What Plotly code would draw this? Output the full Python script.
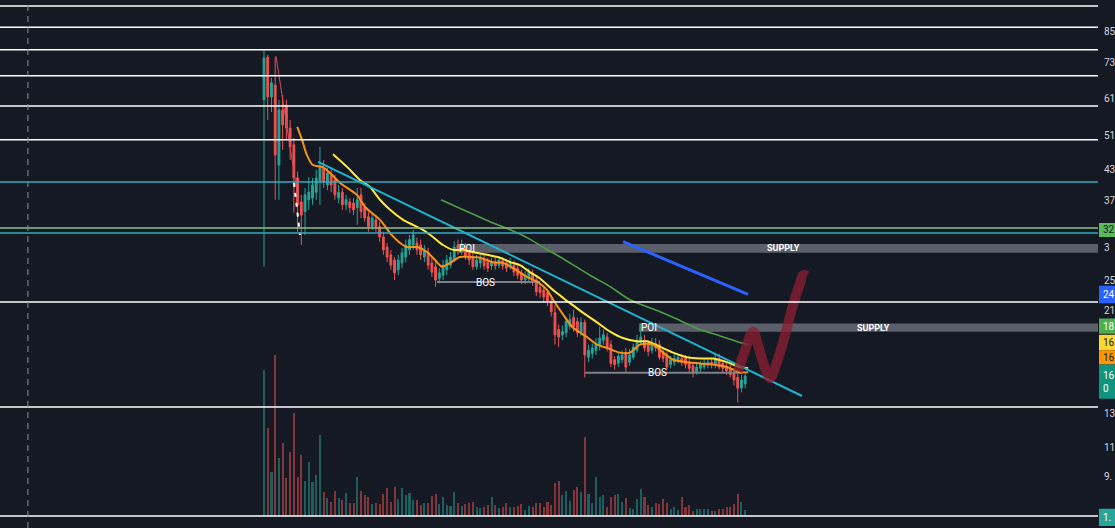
import math
import plotly.graph_objects as go

BG = "#151924"
UP = "#26a69a"
DOWN = "#ef5350"
UP_VOL = "rgba(38,166,154,0.5)"
DOWN_VOL = "rgba(239,83,80,0.5)"
FONT = "Roboto, Arial, sans-serif"

# ---------------- candles (bar index = position in lists) ----------------
opens = [60.6, 74.8, 61.5, 65.2, 44.0, 57.7, 59.1, 52.8, 48.6, 41.3,
         36.7, 35.0, 37.1, 37.4, 38.5, 40.5, 43.4, 39.9, 41.9, 40.9,
         37.4, 38.5, 36.2, 36.7, 36.5, 35.7, 38.0, 35.7, 34.1, 32.5,
         33.6, 32.5, 30.9, 29.4, 28.3, 27.6, 26.3, 27.2, 28.0, 29.0,
         29.7, 30.0, 29.7, 28.0, 28.7, 27.2, 26.7, 25.2, 25.6, 26.3,
         26.9, 27.6, 29.7, 29.0, 29.3, 28.7, 28.0, 26.7, 27.2, 27.6,
         27.3, 26.8, 27.3, 26.9, 27.5, 27.2, 26.7, 26.9, 26.5, 25.9,
         25.0, 25.2, 25.9, 25.0, 24.1, 23.8, 23.5, 22.5, 21.3, 19.6,
         19.1, 19.3, 19.9, 20.8, 20.4, 19.3, 20.3, 17.1, 17.4, 17.7,
         18.2, 18.6, 18.9, 18.2, 16.9, 16.6, 16.9, 17.5, 16.7, 17.1,
         17.7, 18.4, 18.6, 18.2, 17.7, 18.3, 18.2, 17.6, 17.3, 16.5,
         16.7, 16.9, 17.0, 17.0, 16.6, 16.4, 15.9, 16.2, 16.3, 16.5,
         16.7, 16.5, 17.0, 16.6, 16.4, 16.2, 15.9, 15.5, 14.7, 15.0]
highs = [77.5, 75.6, 67.5, 74.8, 60.6, 62.1, 60.6, 54.9, 50.3, 42.6,
         38.0, 39.3, 41.5, 41.3, 43.0, 48.1, 45.1, 43.4, 43.0, 41.9,
         39.9, 39.3, 38.0, 37.4, 37.4, 39.3, 39.3, 36.5, 35.0, 34.8,
         34.4, 33.3, 31.7, 30.0, 29.0, 28.0, 28.3, 29.3, 30.5, 31.2,
         32.0, 30.8, 30.5, 29.7, 29.3, 27.9, 27.3, 26.5, 27.6, 28.3,
         28.7, 30.2, 30.5, 30.5, 30.0, 29.3, 28.6, 28.3, 28.3, 28.3,
         27.9, 27.9, 27.9, 28.1, 28.0, 27.7, 27.9, 27.5, 27.0, 26.3,
         26.1, 26.5, 26.3, 25.4, 24.6, 24.3, 23.8, 22.9, 22.1, 20.1,
         20.0, 20.8, 21.2, 21.6, 20.8, 20.8, 20.6, 18.2, 18.3, 18.8,
         19.9, 19.6, 19.3, 18.6, 17.2, 17.5, 17.7, 17.9, 17.8, 18.3,
         19.1, 20.2, 19.1, 18.6, 18.8, 18.8, 18.6, 17.9, 17.6, 17.2,
         17.4, 17.4, 17.4, 17.3, 17.0, 16.7, 16.6, 16.8, 17.0, 17.0,
         17.0, 17.4, 17.4, 16.9, 16.7, 16.5, 16.2, 15.9, 15.7, 15.8]
lows = [26.7, 54.9, 57.1, 37.1, 37.1, 47.4, 49.8, 45.1, 34.8, 31.7,
        29.7, 31.2, 35.3, 36.2, 37.1, 36.2, 39.3, 38.9, 38.5, 37.1,
        36.5, 35.3, 35.3, 34.8, 34.4, 32.8, 33.9, 33.3, 31.7, 32.0,
        31.7, 30.2, 28.3, 27.3, 26.3, 25.0, 25.6, 26.5, 27.3, 28.3,
        29.0, 28.3, 27.6, 27.3, 26.3, 25.4, 24.2, 24.6, 25.0, 25.6,
        26.5, 27.3, 28.3, 28.3, 27.6, 26.9, 26.3, 26.3, 26.5, 26.3,
        26.0, 26.3, 26.3, 26.5, 26.3, 26.0, 26.3, 25.5, 25.1, 24.5,
        24.5, 24.8, 24.3, 23.1, 22.9, 22.5, 22.0, 20.9, 18.2, 18.0,
        18.6, 18.9, 19.6, 19.4, 18.9, 19.0, 15.5, 16.7, 17.0, 17.3,
        17.7, 18.2, 17.6, 16.3, 16.1, 16.3, 16.6, 15.9, 16.4, 16.9,
        17.5, 18.2, 17.6, 17.2, 17.4, 17.6, 16.9, 16.7, 16.1, 16.2,
        16.4, 16.6, 16.4, 16.2, 15.9, 15.5, 15.7, 15.9, 16.1, 16.2,
        16.2, 16.2, 16.1, 15.9, 15.7, 15.5, 14.9, 13.7, 14.4, 14.7]
closes = [74.5, 61.5, 65.9, 46.2, 57.7, 53.6, 52.8, 48.1, 41.3, 36.2,
          34.4, 38.0, 38.5, 39.9, 41.3, 43.6, 40.5, 42.3, 39.9, 38.0,
          38.5, 36.2, 37.1, 35.7, 35.3, 37.1, 35.0, 33.9, 32.5, 33.9,
          32.5, 30.9, 29.0, 28.0, 26.9, 25.9, 27.6, 28.6, 29.7, 30.5,
          31.2, 29.0, 28.3, 29.0, 26.9, 26.0, 25.0, 25.9, 26.9, 27.6,
          28.0, 29.4, 29.0, 29.7, 28.0, 27.6, 26.7, 27.6, 27.9, 26.8,
          26.5, 27.3, 26.8, 27.6, 26.8, 26.5, 27.3, 26.0, 25.6, 25.0,
          25.6, 26.0, 24.8, 23.6, 23.5, 23.0, 22.5, 21.4, 19.1, 18.9,
          19.4, 20.4, 20.6, 19.9, 19.3, 20.3, 17.3, 17.7, 17.9, 18.3,
          18.8, 19.1, 18.0, 16.6, 16.5, 17.2, 17.3, 16.3, 17.3, 18.0,
          18.6, 18.9, 17.9, 17.6, 18.3, 17.9, 17.1, 17.0, 16.3, 16.9,
          17.0, 17.1, 16.7, 16.5, 16.2, 15.8, 16.3, 16.5, 16.6, 16.7,
          16.5, 17.0, 16.3, 16.2, 16.0, 15.7, 15.3, 14.7, 15.3, 15.6]
volumes = [146, 88, 44, 161, 58, 73, 38, 64, 103, 39,
           61, 35, 54, 34, 41, 81, 24, 18, 14, 25,
           18, 16, 23, 13, 13, 39, 25, 21, 19, 12,
           13, 12, 22, 28, 14, 29, 17, 28, 21, 23,
           16, 16, 11, 13, 13, 20, 22, 12, 19, 11,
           10, 24, 13, 10, 12, 13, 14, 9, 8, 9,
           11, 19, 11, 8, 9, 13, 9, 9, 10, 12,
           6, 10, 9, 13, 13, 9, 14, 11, 33, 35,
           21, 25, 15, 26, 29, 24, 79, 22, 13, 39,
           19, 21, 9, 19, 21, 22, 14, 18, 8, 7,
           17, 27, 19, 11, 9, 13, 12, 17, 13, 7,
           9, 6, 19, 9, 11, 5, 7, 7, 7, 7,
           5, 5, 7, 7, 9, 9, 12, 22, 14, 6]
bars = list(range(len(opens)))

# ---------------- indicator lines (bar index, price) ----------------
ema_orange_x = [8.9, 10.2, 11.5, 13.1, 15.6, 17.7, 20.4, 24.9, 27.1, 31.1, 33.8, 36.5, 38.3, 41.0, 43.7,
                46.4, 47.7, 49.9, 52.5, 55.2, 57.9, 61.4, 64.1, 66.8, 70.5, 73.2, 75.9, 77.5, 80.2, 82.8,
                86.6, 89.3, 92.0, 95.4, 98.1, 100.8, 104.3, 107.0, 109.7, 113.4, 116.9, 120.4, 124.1, 127.6, 129.8]
ema_orange_y = [53.1, 49.8, 46.2, 44.0, 43.6, 42.3, 40.3, 38.0, 35.8, 33.6, 31.5, 30.0, 29.4, 29.4, 28.7,
                27.3, 26.7, 27.2, 28.0, 28.0, 27.9, 27.3, 27.2, 26.5, 25.4, 24.8, 23.8, 22.7, 21.1, 19.8,
                18.9, 18.2, 17.9, 17.5, 17.5, 18.2, 18.2, 17.5, 16.9, 16.7, 16.6, 16.5, 16.3, 15.9, 15.9]
ema_yellow_x = [18.5, 22.25, 25.7, 28.4, 31.1, 33.8, 37.3, 39.9, 42.6, 45.3, 48.0, 50.7, 53.4, 56.0, 59.8,
                63.3, 66.0, 68.6, 71.3, 74.0, 77.5, 80.2, 82.8, 85.5, 89.3, 92.8, 96.2, 100.0, 102.7, 106.2,
                109.7, 113.4, 116.9, 120.4, 124.1, 127.6, 129.8]
ema_yellow_y = [46.4, 43.6, 40.9, 39.5, 37.1, 35.3, 33.6, 32.8, 32.0, 30.9, 29.7, 29.0, 29.0, 28.7, 28.3,
                27.9, 27.3, 26.9, 26.0, 25.2, 23.8, 22.9, 22.1, 21.3, 20.3, 19.4, 18.8, 18.5, 18.5, 18.0,
                17.5, 17.1, 17.0, 17.0, 16.7, 16.3, 16.2]
ma_green_x = [47.45, 51.7, 55.2, 60.6, 66.0, 70.5, 74.8, 79.4, 87.4, 92.8, 98.1, 106.2, 111.5, 116.9, 122.3, 127.6, 129.8]
ma_green_y = [37.1, 35.8, 34.8, 33.3, 32.0, 30.8, 29.4, 28.0, 25.6, 24.2, 22.7, 21.4, 20.5, 19.6, 19.0, 18.4, 18.2]

# ---------------- drawings ----------------
trend_cyan_x = [14.48, 144.24]
trend_cyan_y = [44.7, 14.14]
trend_blue_x = [96.25, 129.76]
trend_blue_y = [30.2, 23.3]
red_diag_x = [3.2, 9.4]
red_diag_y = [75.2, 36.2]
white_dash_x = [8.04, 9.65]
white_dash_y = [40.3, 31.2]
squiggle_x = [127.1, 128.95, 131.1, 132.4, 134.0, 135.7, 137.3, 139.7, 141.8, 143.7, 144.5, 145.6]
squiggle_y = [15.94, 17.7, 19.4, 18.2, 16.5, 15.45, 16.5, 19.1, 22.1, 24.6, 25.6, 25.5]

white_levels = [96.1, 86.6, 77.5, 68.2, 58.8, 49.8, 22.45, 13.4, 7.84]
cyan_levels = [40.5, 31.5]
green_levels = [32.3]

supply_zones = [  # (start bar, low, high, POI bar, label bar)
    (51.7, 28.6, 29.85, 54.4, 139.4),
    (100.5, 19.4, 20.2, 103.2, 163.5),
]
bos_lines = [  # (start bar, end bar, price, label bar)
    (46.4, 74.0, 24.76, 59.5),
    (86.1, 128.4, 15.86, 105.6),
]
dashed_vline_bar = -63.3

tick_vals = [85, 73, 61, 51, 43, 37, 29.3, 25, 21.5, 13, 11, 9.5]
tick_text = ["85", "73", "61", "51", "43", "37", "3", "25", "21", "13", "11", "9."]

# right-axis value tags: (low, high, text, background, text colour)
tags = [
    (30.9, 33.1, "32", "#5cb85c", "#131722"),
    (22.3, 24.3, "24", "#2962ff", "#ffffff"),
    (19.2, 20.7, "18", "#4caf50", "#ffffff"),
    (17.7, 19.1, "16", "#fdd835", "#131722"),
    (16.5, 17.7, "16", "#ff9800", "#131722"),
    (13.95, 16.5, "16<br>0", "#0f9480", "#ffffff"),
    (7.46, 8.12, "1.", "#26a69a", "#ffffff"),
]

X_RANGE = [-70.78, 223.59]
Y_RANGE = [0.86873, 1.99573]


def ly(p):
    # annotations on a log axis are positioned in log10 units
    return math.log10(p)


fig = go.Figure()

vol_colors = [UP_VOL if c >= o else DOWN_VOL for o, c in zip(opens, closes)]
fig.add_trace(go.Bar(x=bars, y=volumes, marker=dict(color=vol_colors, line=dict(width=0)),
                     width=0.55, yaxis="y2", hoverinfo="skip"))

fig.add_trace(go.Candlestick(
    x=bars, open=opens, high=highs, low=lows, close=closes,
    increasing=dict(line=dict(color=UP, width=1), fillcolor=UP),
    decreasing=dict(line=dict(color=DOWN, width=1), fillcolor=DOWN),
    whiskerwidth=0, hoverinfo="skip"))

for (s, e, p, lb) in bos_lines:
    fig.add_trace(go.Scatter(x=[s, e], y=[p, p], mode="lines",
                             line=dict(color="#7d808a", width=2), hoverinfo="skip"))

fig.add_trace(go.Scatter(x=ma_green_x, y=ma_green_y, mode="lines",
                         line=dict(color="#4f9d47", width=1.6, shape="spline", smoothing=0.8)))
fig.add_trace(go.Scatter(x=ema_yellow_x, y=ema_yellow_y, mode="lines",
                         line=dict(color="#ffe93b", width=2, shape="spline", smoothing=0.8)))
fig.add_trace(go.Scatter(x=ema_orange_x, y=ema_orange_y, mode="lines",
                         line=dict(color="#f7931a", width=2, shape="spline", smoothing=0.8)))
fig.add_trace(go.Scatter(x=trend_cyan_x, y=trend_cyan_y, mode="lines",
                         line=dict(color="#1fb3cc", width=2)))
fig.add_trace(go.Scatter(x=trend_blue_x, y=trend_blue_y, mode="lines",
                         line=dict(color="#2962ff", width=3)))
fig.add_trace(go.Scatter(x=red_diag_x, y=red_diag_y, mode="lines",
                         line=dict(color="#d84a5a", width=1)))
fig.add_trace(go.Scatter(x=white_dash_x, y=white_dash_y, mode="lines",
                         line=dict(color="#ffffff", width=2, dash="4px,6px")))
fig.add_trace(go.Scatter(x=squiggle_x, y=squiggle_y, mode="lines",
                         line=dict(color="rgba(140,30,50,0.75)", width=10, shape="spline", smoothing=1)))

shapes = []
for lv in white_levels:
    shapes.append(dict(type="line", xref="paper", yref="y", x0=0, x1=1, y0=lv, y1=lv,
                       line=dict(color="#ffffff", width=1.5)))
for lv in cyan_levels:
    shapes.append(dict(type="line", xref="paper", yref="y", x0=0, x1=1, y0=lv, y1=lv,
                       line=dict(color="#33a9bf", width=1.5)))
for lv in green_levels:
    shapes.append(dict(type="line", xref="paper", yref="y", x0=0, x1=1, y0=lv, y1=lv,
                       line=dict(color="#8cc084", width=1.5)))
for (s, lo, hi, poi, lab) in supply_zones:
    shapes.append(dict(type="rect", xref="x", yref="y", x0=s, x1=X_RANGE[1], y0=lo, y1=hi,
                       fillcolor="rgba(150,153,162,0.55)", line=dict(width=0), layer="below"))
shapes.append(dict(type="line", xref="x", yref="paper", x0=dashed_vline_bar, x1=dashed_vline_bar,
                   y0=0, y1=1, line=dict(color="#8a8e99", width=1, dash="6px,5px")))
for (lo, hi, txt, bg, fc) in tags:
    shapes.append(dict(type="rect", xref="paper", yref="y", x0=1.0009, x1=1.03, y0=lo, y1=hi,
                       fillcolor=bg, line=dict(width=0)))

annotations = []
for (s, lo, hi, poi, lab) in supply_zones:
    mid = ly((lo * hi) ** 0.5)
    annotations.append(dict(x=lab, y=mid, xref="x", yref="y", text="<b>SUPPLY</b>", showarrow=False,
                            font=dict(family=FONT, size=9, color="#ffffff")))
    annotations.append(dict(x=poi, y=mid, xref="x", yref="y", text="POI", showarrow=False,
                            font=dict(family=FONT, size=10, color="#ffffff")))
for (s, e, p, lb) in bos_lines:
    annotations.append(dict(x=lb, y=ly(p), xref="x", yref="y", text="BOS", showarrow=False,
                            font=dict(family=FONT, size=10, color="#ffffff")))
for (lo, hi, txt, bg, fc) in tags:
    annotations.append(dict(x=1.0, y=ly((lo * hi) ** 0.5), xref="paper", yref="y", text=txt,
                            showarrow=False, xanchor="left", xshift=3, align="left",
                            font=dict(family=FONT, size=10, color=fc)))

fig.update_layout(
    width=1115, height=528,
    margin=dict(l=0, r=17, t=0, b=0),
    paper_bgcolor=BG, plot_bgcolor=BG,
    showlegend=False, hovermode=False,
    bargap=0,
    xaxis=dict(range=X_RANGE, visible=False, rangeslider=dict(visible=False), fixedrange=True,
               automargin=False),
    yaxis=dict(type="log", range=Y_RANGE, side="right", showgrid=False, zeroline=False,
               tickvals=tick_vals, ticktext=tick_text, ticks="", ticklabelstandoff=5,
               automargin=False,
               tickfont=dict(family=FONT, size=10, color="#d1d4dc"), showline=False),
    yaxis2=dict(overlaying="y", range=[-12, 516], visible=False, showgrid=False),
    shapes=shapes, annotations=annotations,
)

fig.write_html("out.html")
